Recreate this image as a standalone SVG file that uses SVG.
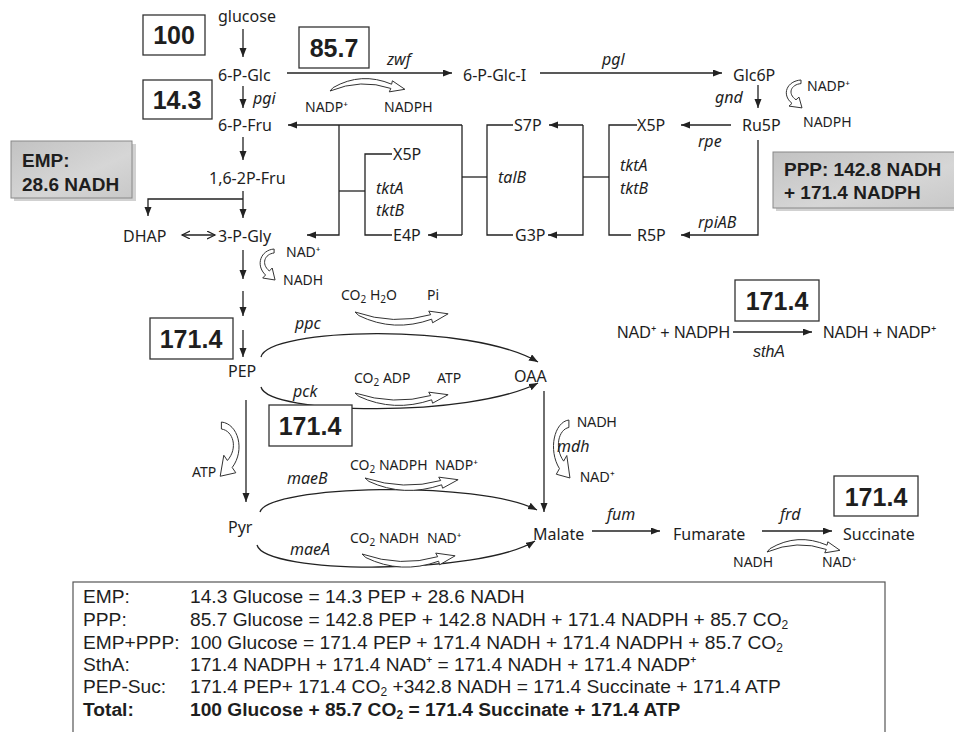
<svg xmlns="http://www.w3.org/2000/svg" width="954" height="732" viewBox="0 0 954 732">
<style>
text{font-family:"Noto Sans","Open Sans",sans-serif;font-size:16px;fill:#1e1e1e}
.i{font-style:italic}
.s{font-size:14px}
.xs{font-size:13.5px}
.fa{font-family:"Liberation Sans",Arial,sans-serif}
.num{font-family:"Liberation Sans",Arial,sans-serif;font-weight:bold;font-size:25px;text-anchor:middle}
.gb{font-family:"Liberation Sans",Arial,sans-serif;font-weight:bold;font-size:19px}
.eq{font-family:"Liberation Sans",Arial,sans-serif;font-size:19.2px}
.bold{font-weight:bold}
.box{fill:#fff;stroke:#333;stroke-width:1.3}
.ln{fill:none;stroke:#222;stroke-width:1.3}
.arw{marker-end:url(#ah)}
.co{fill:#fff;stroke:#333;stroke-width:1}
.co path{vector-effect:non-scaling-stroke}
</style>
<defs>
<marker id="ah" markerUnits="userSpaceOnUse" markerWidth="10" markerHeight="8" refX="9" refY="3.5" orient="auto"><path d="M0,0 L9,3.5 L0,7 z" fill="#222"/></marker>
<marker id="oh" markerUnits="userSpaceOnUse" markerWidth="10" markerHeight="10" refX="8" refY="4" orient="auto-start-reverse"><path d="M0,0 L8,4 L0,8" fill="none" stroke="#222" stroke-width="1.2"/></marker>
<linearGradient id="gg" x1="0" y1="0" x2="1" y2="1"><stop offset="0" stop-color="#c2c2c2"/><stop offset="0.6" stop-color="#d6d6d6"/><stop offset="1" stop-color="#c8c8c8"/></linearGradient>
<path id="hc" d="M0,0 Q40,15 78,3 L76,-1 L96,2 L80,12 L79,8 Q40,23 4,4 Z" vector-effect="non-scaling-stroke"/>
<path id="vc" d="M18,0 C4,1 -2,16 9,26 L6,29 L19,31 L16,19 L13,22 C4,15 8,5 18,4 Z" vector-effect="non-scaling-stroke"/>
</defs>
<rect width="954" height="732" fill="#fff"/>

<g id="connectors" class="ln">
<path class="arw" d="M243,29 V57"/>
<path class="arw" d="M243,86 V108"/>
<path class="arw" d="M243,137 V160"/>
<path class="arw" d="M243,191 V218"/>
<path class="arw" d="M243,199 H148 V216"/>
<path d="M182,235 H215" marker-start="url(#oh)" marker-end="url(#oh)"/>
<path class="arw" d="M243,250 V279"/>
<path class="arw" d="M243,291 V316"/>
<path class="arw" d="M243,330 V357"/>
<path class="arw" d="M287,73 H452"/>
<path class="arw" d="M540,73 H722"/>
<path class="arw" d="M758,85 V108"/>
<path class="arw" d="M462,125 H288"/>
<path d="M462,125 V235"/>
<path class="arw" d="M462,235 H428"/>
<path class="arw" d="M339,125 V235 H307"/>
<path d="M339,191 H365"/>
<path d="M392,154 H365 V235 H392"/>
<path d="M462,177 H487"/>
<path d="M513,125 H487 V235 H513"/>
<path class="arw" d="M583,125 H549"/>
<path class="arw" d="M583,125 V235 H548"/>
<path d="M583,177 H609"/>
<path d="M637,125 H609 V235 H631"/>
<path class="arw" d="M731,125 H681"/>
<path class="arw" d="M758,140 V235 H681"/>
<path class="arw" d="M261,357 C268,328 470,322 538,362"/>
<path class="arw" d="M261,387 C268,415 470,418 538,383"/>
<path class="arw" d="M246,400 V502"/>
<path class="arw" d="M260,512 C268,485 480,480 537,510"/>
<path class="arw" d="M257,545 C265,575 480,575 535,541"/>
<path class="arw" d="M544,391 V512"/>
<path class="arw" d="M592,531 H660"/>
<path class="arw" d="M762,531 H832"/>
<path class="arw" d="M733,332 H812"/>
</g>

<g id="cofactors" class="co">
<use href="#hc" transform="translate(330,91) scale(0.78,-0.85)"/>
<use href="#vc" transform="translate(783,80) scale(1,0.9)"/>
<use href="#vc" transform="translate(257,249) scale(0.95,1)"/>
<use href="#hc" transform="translate(355,312) scale(0.97,0.9)"/>
<use href="#hc" transform="translate(355,393) scale(0.97,0.85)"/>
<use href="#vc" transform="translate(243,422) scale(-1.2,1.75)"/>
<use href="#hc" transform="translate(365,478) scale(0.97,0.85)"/>
<use href="#hc" transform="translate(362,554) scale(0.97,0.9)"/>
<use href="#vc" transform="translate(550,420) scale(1.05,1.87)"/>
<use href="#hc" transform="translate(767,552) scale(0.76,-0.85)"/>
</g>

<g id="n-glucose"><text x="218" y="22">glucose</text></g>
<g id="n-6PGlc"><text x="218" y="81">6-P-Glc</text></g>
<g id="n-6PFru"><text x="218" y="131">6-P-Fru</text></g>
<g id="n-16P2Fru"><text x="209" y="184">1,6-2P-Fru</text></g>
<g id="n-DHAP"><text x="123" y="242">DHAP</text></g>
<g id="n-3PGly"><text x="218" y="242">3-P-Gly</text></g>
<g id="n-6PGlcI"><text x="463" y="81">6-P-Glc-I</text></g>
<g id="n-Glc6P"><text x="733" y="81">Glc6P</text></g>
<g id="n-Ru5P"><text x="742" y="131">Ru5P</text></g>
<g id="n-X5P1"><text x="393" y="160">X5P</text></g>
<g id="n-E4P"><text x="393" y="241">E4P</text></g>
<g id="n-S7P"><text x="514" y="131">S7P</text></g>
<g id="n-G3P"><text x="515" y="241">G3P</text></g>
<g id="n-X5P2"><text x="637" y="131">X5P</text></g>
<g id="n-R5P"><text x="637" y="241">R5P</text></g>
<g id="n-PEP"><text x="228" y="377">PEP</text></g>
<g id="n-OAA"><text x="514" y="382">OAA</text></g>
<g id="n-Pyr"><text x="228" y="533">Pyr</text></g>
<g id="n-Malate"><text x="533" y="540">Malate</text></g>
<g id="n-Fumarate"><text x="673" y="540">Fumarate</text></g>
<g id="n-Succinate"><text x="843" y="540">Succinate</text></g>

<g id="enzymes">
<text x="253" y="104" class="i">pgi</text>
<text x="387" y="65" class="i">zwf</text>
<text x="602" y="65" class="i">pgl</text>
<text x="715" y="103" class="i">gnd</text>
<text x="698" y="147" class="i">rpe</text>
<text x="698" y="228" class="i">rpiAB</text>
<text x="376" y="194" class="i">tktA</text>
<text x="376" y="216" class="i">tktB</text>
<text x="498" y="183" class="i">talB</text>
<text x="620" y="171" class="i">tktA</text>
<text x="620" y="194" class="i">tktB</text>
<text x="295" y="329" class="i">ppc</text>
<text x="293" y="397" class="i">pck</text>
<text x="287" y="484" class="i">maeB</text>
<text x="290" y="555" class="i">maeA</text>
<text x="557" y="452" class="i">mdh</text>
<text x="607" y="520" class="i">fum</text>
<text x="780" y="520" class="i">frd</text>
</g>

<g id="cofactor-labels">
<text x="305" y="112" class="s">NADP⁺</text>
<text x="384" y="112" class="s">NADPH</text>
<text x="807" y="91" class="s">NADP⁺</text>
<text x="803" y="127" class="s">NADPH</text>
<text x="286" y="257" class="s">NAD⁺</text>
<text x="283" y="285" class="s">NADH</text>
<text x="341" y="300" class="s">CO<tspan font-size="10" dy="3">2</tspan><tspan dy="-3"> H</tspan><tspan font-size="10" dy="3">2</tspan><tspan dy="-3">O</tspan></text>
<text x="427" y="300" class="s">Pi</text>
<text x="354" y="383" class="s">CO<tspan font-size="10" dy="3">2</tspan><tspan dy="-3"> ADP</tspan></text>
<text x="437" y="383" class="s">ATP</text>
<text x="192" y="477" class="s">ATP</text>
<text x="350" y="470" class="s">CO<tspan font-size="10" dy="3">2</tspan><tspan dy="-3"> NADPH</tspan></text>
<text x="435" y="470" class="s">NADP⁺</text>
<text x="350" y="543" class="s">CO<tspan font-size="10" dy="3">2</tspan><tspan dy="-3"> NADH</tspan></text>
<text x="427" y="543" class="s">NAD⁺</text>
<text x="577" y="427" class="s fa">NADH</text>
<text x="580" y="482" class="s fa">NAD⁺</text>
<text x="733" y="567" class="s">NADH</text>
<text x="822" y="567" class="s">NAD⁺</text>
</g>

<g id="sthA">
<text x="617" y="338" class="fa">NAD⁺ + NADPH</text>
<text x="823" y="338" class="fa">NADH + NADP⁺</text>
<text x="753" y="357" class="fa i">sthA</text>
</g>

<g id="flux-boxes">
<rect class="box" x="143" y="15" width="62" height="40"/><text class="num" x="174" y="44">100</text>
<rect class="box" x="143" y="80" width="69" height="39"/><text class="num" x="177" y="109">14.3</text>
<rect class="box" x="299" y="27" width="70" height="41"/><text class="num" x="334" y="57">85.7</text>
<rect class="box" x="150" y="318" width="83" height="41"/><text class="num" x="191" y="348">171.4</text>
<rect class="box" x="269" y="405" width="83" height="41"/><text class="num" x="310" y="435">171.4</text>
<rect class="box" x="735" y="280" width="84" height="41"/><text class="num" x="777" y="310">171.4</text>
<rect class="box" x="834" y="476" width="84" height="40"/><text class="num" x="876" y="506">171.4</text>
</g>

<g id="emp-box">
<rect x="14" y="144" width="122" height="57" fill="#999" opacity="0.45"/>
<rect x="11" y="141" width="121" height="57" fill="url(#gg)" stroke="#888" stroke-width="1"/>
<text class="gb" x="22" y="167">EMP:</text>
<text class="gb" x="22" y="191">28.6 NADH</text>
</g>

<g id="ppp-box">
<rect x="776" y="155" width="182" height="56" fill="#999" opacity="0.45"/>
<rect x="773" y="152" width="185" height="56" fill="url(#gg)" stroke="#888" stroke-width="1"/>
<text class="gb" x="784" y="176">PPP: 142.8 NADH</text>
<text class="gb" x="784" y="199">+ 171.4 NADPH</text>
</g>

<g id="summary">
<rect x="73" y="582" width="812" height="160" fill="#fff" stroke="#555" stroke-width="1.2"/>
<text class="eq" x="83" y="603">EMP:</text>
<text class="eq" x="190" y="603">14.3 Glucose = 14.3 PEP + 28.6 NADH</text>
<text class="eq" x="83" y="626">PPP:</text>
<text class="eq" x="190" y="626">85.7 Glucose = 142.8 PEP + 142.8 NADH + 171.4 NADPH + 85.7 CO<tspan font-size="12" dy="3">2</tspan></text>
<text class="eq" x="83" y="649">EMP+PPP:</text>
<text class="eq" x="190" y="649">100 Glucose = 171.4 PEP + 171.4 NADH + 171.4 NADPH + 85.7 CO<tspan font-size="12" dy="3">2</tspan></text>
<text class="eq" x="83" y="671">SthA:</text>
<text class="eq" x="190" y="671">171.4 NADPH + 171.4 NAD⁺ = 171.4 NADH + 171.4 NADP⁺</text>
<text class="eq" x="83" y="693">PEP-Suc:</text>
<text class="eq" x="190" y="693">171.4 PEP+ 171.4 CO<tspan font-size="12" dy="3">2</tspan><tspan dy="-3"> +342.8 NADH = 171.4 Succinate + 171.4 ATP</tspan></text>
<text class="eq bold" x="83" y="716">Total:</text>
<text class="eq bold" x="190" y="716">100 Glucose + 85.7 CO<tspan font-size="12" dy="3">2</tspan><tspan dy="-3"> = 171.4 Succinate + 171.4 ATP</tspan></text>
</g>
</svg>
